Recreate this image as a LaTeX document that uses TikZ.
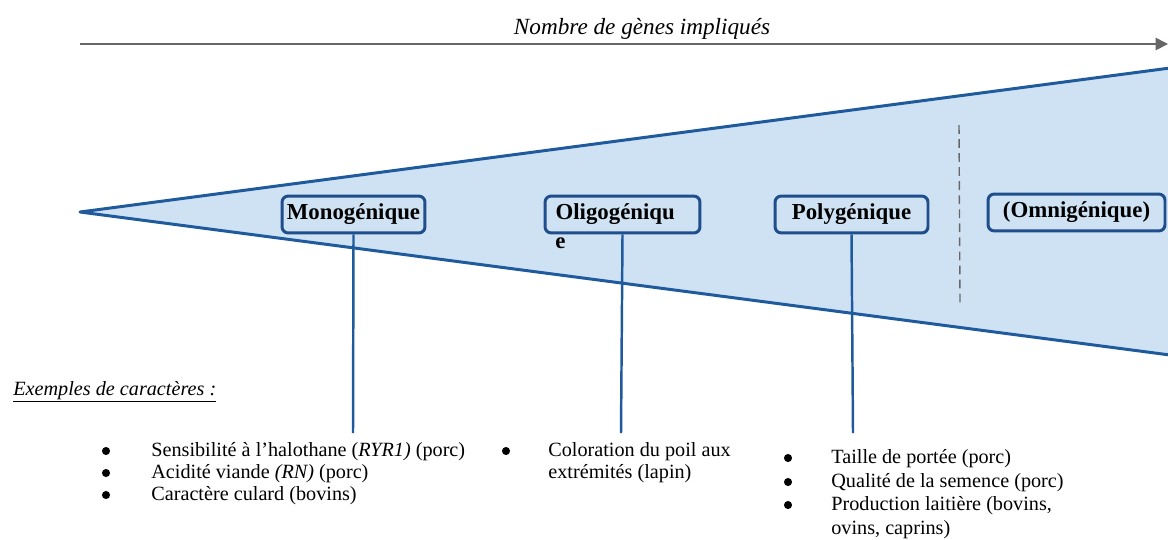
\documentclass[tikz,border=0pt]{standalone}
\usepackage{fontspec}
\setmainfont{Liberation Serif}
\usetikzlibrary{arrows.meta}
\definecolor{fillblue}{HTML}{CFE2F3}
\definecolor{lineblue}{HTML}{1F5A9C}
\definecolor{boxblue}{HTML}{1F4E8C}
\definecolor{axisgray}{HTML}{666666}
\tikzset{
  catbox/.style={draw=boxblue, line width=1.7pt, rounded corners=3.5pt, fill=fillblue,
    font=\fontsize{13}{15}\selectfont\bfseries, minimum height=21pt, inner sep=0pt},
  link/.style={draw=lineblue, line width=1.4pt},
  bodytext/.style={font=\fontsize{11.5}{12.6}\selectfont, inner sep=0pt, anchor=north west, align=left},
  bulletdot/.style={circle, fill=black, inner sep=0pt, minimum size=4.6pt}
}
\begin{document}
\begin{tikzpicture}[x=0.02cm, y=-0.02cm]
\useasboundingbox (0,0) rectangle (1168,539);
% axis
\coordinate (axL) at (80,44);
\coordinate (axR) at (1168,44);
\draw[axisgray, line width=0.9pt, -{Triangle[length=7pt,width=7pt]}] (axL) -- (axR);
\node[font=\fontsize{13.2}{15}\selectfont\itshape, anchor=base] (title) at (642,34) {Nombre de gènes impliqués};
% cone
\coordinate (apex) at (80,212);
\coordinate (tr) at (1170,68);
\coordinate (br) at (1170,355);
\fill[fillblue] (apex) -- (tr) -- (br) -- cycle;
\draw[lineblue, line width=1.7pt, line join=round] (tr) -- (apex) -- (br);
% dashed separator
\coordinate (dA) at (959,125);
\coordinate (dB) at (960,305);
\draw[axisgray, line width=0.8pt, dash pattern=on 5pt off 3pt] (dA) -- (dB);
% boxes
\node[catbox, minimum width=143*0.569pt] (mono) at (353.5,214.5) {Monogénique};
\node[catbox, minimum width=155*0.569pt, text width=155*0.569pt-12pt, align=left] (oligo) at (622.5,214.5) {\hspace*{0pt}Oligogéniqu};
\node[font=\fontsize{13}{15}\selectfont\bfseries, anchor=north west, inner sep=0pt] (oligoe) at (555,237) {e};
\node[catbox, minimum width=153*0.569pt] (poly) at (851.5,214.5) {Polygénique};
\node[catbox, minimum width=177*0.569pt] (omni) at (1076.5,212.5) {(Omnigénique)};
% connectors
\coordinate (mEnd) at (353,433);
\coordinate (oEnd) at (621,433);
\coordinate (pEnd) at (853,433);
\draw[link] (mono.south) -- (mEnd);
\draw[link] (oligo.south) -- (oEnd);
\draw[link] (poly.south) -- (pEnd);
% examples
\node[font=\fontsize{11.5}{13}\selectfont\itshape, anchor=base west, inner sep=0pt] (ex) at (13,395) {\underline{Exemples de caractères :}};
% list 1
\node[bodytext] (l1) at (151,442) {Sensibilité à l’halothane (\textit{RYR1)} (porc)\\Acidité viande \textit{(RN)} (porc)\\Caractère culard (bovins)};
\node[bulletdot] (b11) at (106,451) {};
\node[bulletdot] (b12) at (106,473) {};
\node[bulletdot] (b13) at (106,495) {};
% list 2
\node[bodytext] (l2) at (548,442) {Coloration du poil aux\\extrémités (lapin)};
\node[bulletdot] (b21) at (506,451) {};
% list 3
\node[bodytext, font=\fontsize{11.5}{13.5}\selectfont] (l3) at (831,449) {Taille de portée (porc)\\Qualité de la semence (porc)\\Production laitière (bovins,\\ovins, caprins)};
\node[bulletdot] (b31) at (788,458) {};
\node[bulletdot] (b32) at (788,482) {};
\node[bulletdot] (b33) at (788,505) {};
\end{tikzpicture}
\end{document}
